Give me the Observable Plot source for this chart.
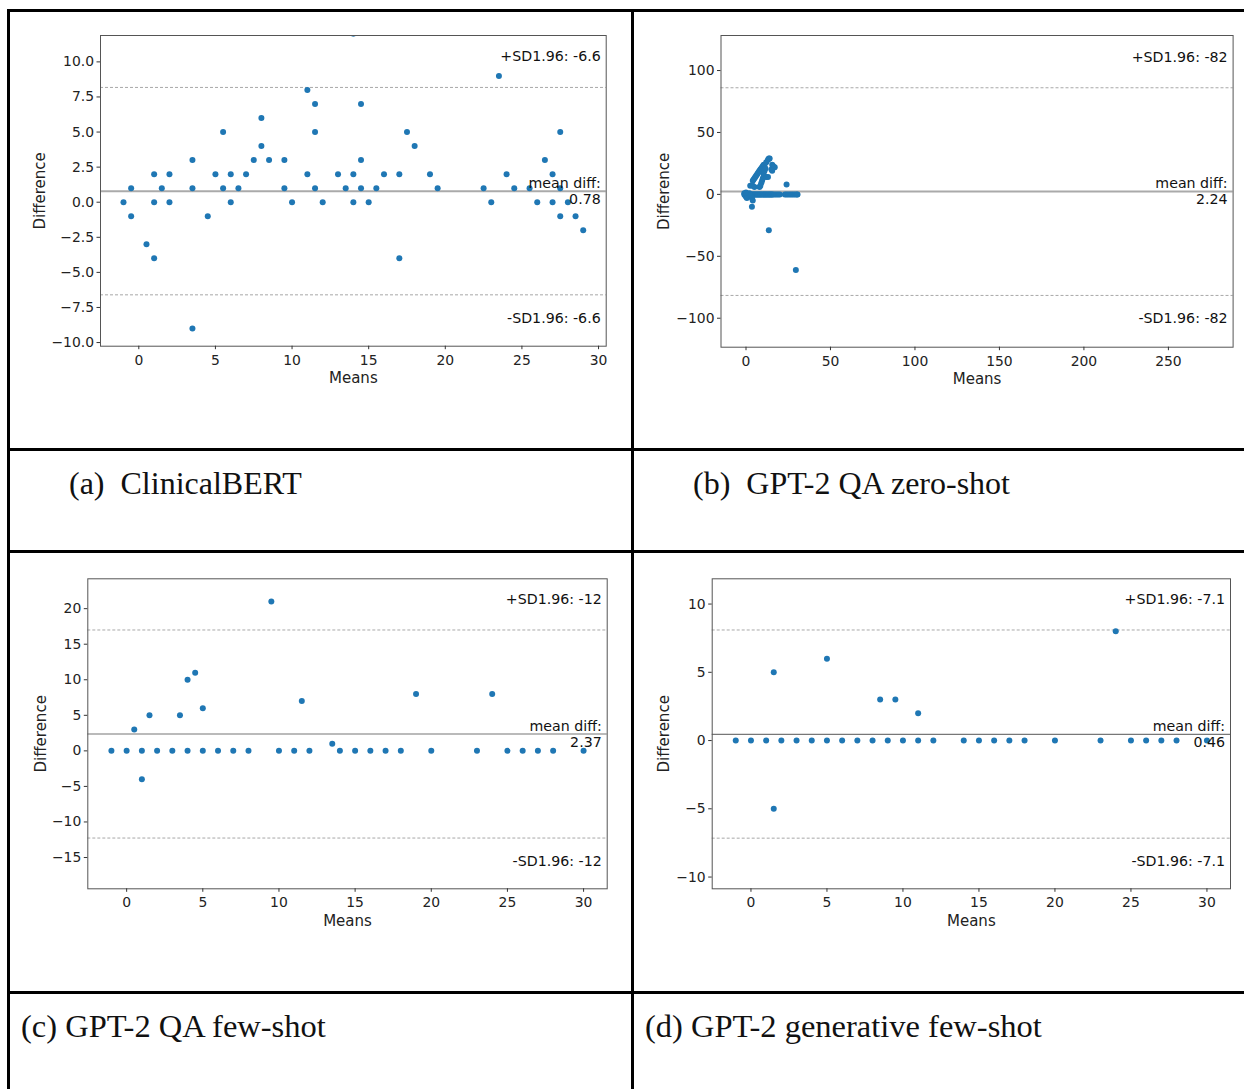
<!DOCTYPE html>
<html>
<head>
<meta charset="utf-8">
<script src="https://cdn.jsdelivr.net/npm/d3@7"></script>
<script src="https://cdn.jsdelivr.net/npm/@observablehq/plot@0.6"></script>
<style>
  html, body { margin: 0; padding: 0; background: #fff; }
  #page { position: relative; width: 1244px; height: 1089px; background: #fff; overflow: hidden; }
  .rule { position: absolute; background: #000; }
  .cap { position: absolute; font-family: "Liberation Serif", "Times New Roman", serif; line-height: 32px; color: #111; white-space: pre; }
  .panel { position: absolute; }
</style>
</head>
<body>
<div id="page">
  <div class="rule" style="left:7px;top:9px;width:1237px;height:3px"></div>
  <div class="rule" style="left:7px;top:448px;width:1237px;height:3px"></div>
  <div class="rule" style="left:7px;top:550px;width:1237px;height:3px"></div>
  <div class="rule" style="left:7px;top:991px;width:1237px;height:3px"></div>
  <div class="rule" style="left:7px;top:9px;width:3px;height:1080px"></div>
  <div class="rule" style="left:631px;top:9px;width:3px;height:1080px"></div>
  <div class="cap" id="capA" style="left:69px;top:467px;font-size:32px"></div>
  <div class="cap" id="capB" style="left:693px;top:467px;font-size:32px"></div>
  <div class="cap" id="capC" style="left:21px;top:1010px;font-size:32.5px"></div>
  <div class="cap" id="capD" style="left:645px;top:1010px;font-size:32.5px"></div>
  <div class="panel" id="pA" style="left:12px;top:14px"></div>
  <div class="panel" id="pB" style="left:636px;top:14px"></div>
  <div class="panel" id="pC" style="left:12px;top:556px"></div>
  <div class="panel" id="pD" style="left:636px;top:556px"></div>
</div>
<script>
// ---------- Data ----------
const captions = ["(a)  ClinicalBERT", "(b)  GPT-2 QA zero-shot", "(c) GPT-2 QA few-shot", "(d) GPT-2 generative few-shot"];

// (a) ClinicalBERT
const aMeans = [-1,-0.5,-0.5,0.5,1,1,1,1.5,2,2,3.5,3.5,3.5,4.5,5,5.5,5.5,6,6,6.5,7,7.5,8,8,8.5,9.5,9.5,10,11,11,11.5,11.5,11.5,12,13,13.5,14,14,14,14.5,14.5,14.5,15,15.5,16,17,17,17.5,18,19,19.5,22.5,23,23.5,24,24.5,25.5,26,26.5,27,27,27.5,27.5,27.5,28,28.5,29];
const aDiffs = [0,1,-1,-3,2,0,-4,1,2,0,3,1,-9,-1,2,5,1,2,0,1,2,3,6,4,3,3,1,0,8,2,7,5,1,0,2,1,12,2,0,7,3,1,0,1,2,2,-4,5,4,2,1,1,0,9,2,1,1,0,3,2,0,5,1,-1,0,-1,-2];
const aStats = {mean: 0.78, upper: 8.18, lower: -6.6};
const aLabels = {upper: "+SD1.96: -6.6", mean: "mean diff:", value: "0.78", lower: "-SD1.96: -6.6"};

// (b) GPT-2 QA zero-shot
const bMeans = [-1,-0.5,0,0.5,1,1.5,2,2.5,3,3.5,4,4.5,5,5.5,6,6.5,7,7.5,8,8.5,9,9.5,10,10.5,11,11.5,12,12.5,13,13.5,14,14.5,15,15.5,16,17,18,19,20,23,24,25,26,27,28,29,30,30.5,
  4,4.5,5,5.5,6,6.5,7,7.5,8,8.5,9,9.5,10,10.5,11,12,13,13.5,14,
  8,8.5,9,9.5,10,10.5,11,11.5,12,13,
  15,15.5,16,16.5,17,15.5,
  2.5,4,5,
  24,3.5,13.5,29.5,
  -1,-0.5,0,0.5,1,2,3.5,4,0];
const bDiffs = [0,0,0,0,0,0,0,0,0,0,0,0,0,0,0,0,0,0,0,0,0,0,0,0,0,0,0,0,0,0,0,0,0,0,0,0,0,0,0,0,0,0,0,0,0,0,0,0,
  11,12,13,14,15,16,17,18,19,20,21,22,23,24,24,26,28,29,29,
  6,7,9,11,13,16,19,21,14,14,
  20,24,23,22,22,19,
  7,7,6,
  8,-10,-29,-61,
  1,-1,-2,-3,-2,1,-3,-5,1.5];
const bStats = {mean: 2.24, upper: 86.1, lower: -81.6};
const bLabels = {upper: "+SD1.96: -82", mean: "mean diff:", value: "2.24", lower: "-SD1.96: -82"};

// (c) GPT-2 QA few-shot
const cMeans = [-1,0,0.5,1,1,1.5,2,3,3.5,4,4,4.5,5,5,6,7,8,9.5,10,11,11.5,12,13.5,14,15,16,17,18,19,20,23,24,25,26,27,28,30];
const cDiffs = [0,0,3,0,-4,5,0,0,5,10,0,11,6,0,0,0,0,21,0,0,7,0,1,0,0,0,0,0,8,0,0,8,0,0,0,0,0];
const cStats = {mean: 2.37, upper: 17.0, lower: -12.26};
const cLabels = {upper: "+SD1.96: -12", mean: "mean diff:", value: "2.37", lower: "-SD1.96: -12"};

// (d) GPT-2 generative few-shot
const dMeans = [-1,0,1,1.5,1.5,2,3,4,5,5,6,7,8,8.5,9,9.5,10,11,11,12,14,15,16,17,18,20,23,24,25,26,27,28,30];
const dDiffs = [0,0,0,5,-5,0,0,0,0,6,0,0,0,3,0,3,0,0,2,0,0,0,0,0,0,0,0,8,0,0,0,0,0];
const dStats = {mean: 0.46, upper: 8.1, lower: -7.15};
const dLabels = {upper: "+SD1.96: -7.1", mean: "mean diff:", value: "0.46", lower: "-SD1.96: -7.1"};

// tick values
const aXTicks = [0, 5, 10, 15, 20, 25, 30];
const aYTicks = [-10, -7.5, -5, -2.5, 0, 2.5, 5, 7.5, 10];
const bXTicks = [0, 50, 100, 150, 200, 250];
const bYTicks = [-100, -50, 0, 50, 100];
const cXTicks = [0, 5, 10, 15, 20, 25, 30];
const cYTicks = [-15, -10, -5, 0, 5, 10, 15, 20];
const dXTicks = [0, 5, 10, 15, 20, 25, 30];
const dYTicks = [-10, -5, 0, 5, 10];

// ---------- Drawing ----------
const BLUE = "#1f77b4";
const FONT = "DejaVu Sans, Verdana, sans-serif";

function panel(cfg) {
  const data = cfg.means.map((m, i) => ({m, d: cfg.diffs[i]}));
  const s = cfg.stats, L = cfg.labels;
  const fs = 14.2, tfs = 13.9;
  return Plot.plot({
    width: cfg.width, height: cfg.height,
    marginLeft: cfg.ml, marginRight: cfg.mr, marginTop: cfg.mt, marginBottom: cfg.mb,
    style: {background: "transparent", fontFamily: FONT, fontSize: tfs + "px", color: "#222", overflow: "visible"},
    x: {domain: cfg.xDomain},
    y: {domain: cfg.yDomain},
    marks: [
      Plot.ruleY([s.upper, s.lower], {stroke: "#a8a8a8", strokeWidth: 1, strokeDasharray: "3,2"}),
      Plot.ruleY([s.mean], {stroke: cfg.meanColor, strokeWidth: cfg.meanWidth}),
      Plot.dot(data, {x: "m", y: "d", r: 3, fill: BLUE, clip: true}),
      Plot.frame({stroke: "#555", strokeWidth: 1}),
      Plot.axisX({ticks: cfg.xTicks, tickFormat: d3.format("d"), tickSize: 3.5, tickPadding: 5, label: null, fontSize: tfs, stroke: "#333"}),
      Plot.axisY({ticks: cfg.yTicks, tickFormat: cfg.yFormat, tickSize: 3.5, tickPadding: 3, label: null, fontSize: tfs, stroke: "#333"}),
      Plot.text([s.upper], {y: d => d, frameAnchor: "right", text: () => L.upper, textAnchor: "end", lineAnchor: "middle", dx: -5.5, dy: -30.5, fontSize: fs, fill: "#111"}),
      Plot.text([s.mean], {y: d => d, frameAnchor: "right", text: () => L.mean, textAnchor: "end", lineAnchor: "middle", dx: -5.5, dy: -7.8, fontSize: fs, fill: "#111"}),
      Plot.text([s.mean], {y: d => d, frameAnchor: "right", text: () => L.value, textAnchor: "end", lineAnchor: "middle", dx: -5.5, dy: 8.2, fontSize: fs, fill: "#111"}),
      Plot.text([s.lower], {y: d => d, frameAnchor: "right", text: () => L.lower, textAnchor: "end", lineAnchor: "middle", dx: -5.5, dy: 23.2, fontSize: fs, fill: "#111"}),
      Plot.text(["Difference"], {frameAnchor: "left", text: d => d, rotate: -90, textAnchor: "middle", lineAnchor: "middle", dx: cfg.yLabelDx, fontSize: 15, fill: "#222"}),
      Plot.text(["Means"], {frameAnchor: "bottom", text: d => d, textAnchor: "middle", lineAnchor: "middle", dy: 32, fontSize: 15, fill: "#222"})
    ]
  });
}

const common = {width: 615, height: 430};
document.getElementById("pA").append(panel({
  ...common, ml: 88, mr: 21.3, mt: 21, mb: 98.3,
  means: aMeans, diffs: aDiffs, stats: aStats, labels: aLabels,
  xDomain: [-2.5, 30.5], yDomain: [-10.26, 11.88], xTicks: aXTicks, yTicks: aYTicks, yFormat: d3.format(".1f"),
  meanColor: "#aaaaaa", meanWidth: 2, yLabelDx: -60
}));
document.getElementById("pB").append(panel({
  width: 604, height: 430, ml: 84.5, mr: 7.4, mt: 21, mb: 97.3,
  means: bMeans, diffs: bDiffs, stats: bStats, labels: bLabels,
  xDomain: [-14.8, 288.3], yDomain: [-123.4, 128.3], xTicks: bXTicks, yTicks: bYTicks, yFormat: d3.format("d"),
  meanColor: "#aaaaaa", meanWidth: 2, yLabelDx: -56.5
}));
document.getElementById("pC").append(panel({
  ...common, ml: 75.3, mr: 20.3, mt: 22.3, mb: 97.7,
  means: cMeans, diffs: cDiffs, stats: cStats, labels: cLabels,
  xDomain: [-2.55, 31.55], yDomain: [-19.4, 24.2], xTicks: cXTicks, yTicks: cYTicks, yFormat: d3.format("d"),
  meanColor: "#777777", meanWidth: 1.2, yLabelDx: -47
}));
document.getElementById("pD").append(panel({
  width: 604, height: 430, ml: 75.7, mr: 10, mt: 22.3, mb: 97.7,
  means: dMeans, diffs: dDiffs, stats: dStats, labels: dLabels,
  xDomain: [-2.55, 31.55], yDomain: [-10.86, 11.85], xTicks: dXTicks, yTicks: dYTicks, yFormat: d3.format("d"),
  meanColor: "#777777", meanWidth: 1.2, yLabelDx: -48
}));

["capA", "capB", "capC", "capD"].forEach((id, i) => {
  document.getElementById(id).textContent = captions[i];
});
</script>
</body>
</html>
